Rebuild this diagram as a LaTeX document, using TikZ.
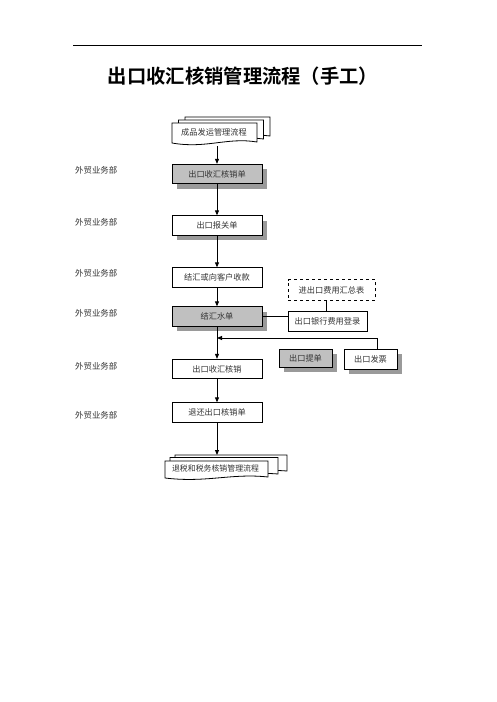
\documentclass[tikz,border=0pt]{standalone}
\usepackage{fontspec}
\newfontfamily\cjk{Noto Sans CJK SC}
\newfontfamily\cjkb{Noto Sans CJK SC Bold}
\usetikzlibrary{arrows.meta,calc}
\definecolor{boxgray}{HTML}{C0C0C0}
\definecolor{shadowgray}{HTML}{9A9A9A}
\tikzset{
  box/.style={draw, line width=0.8pt, minimum width=90pt, minimum height=19.5pt, inner sep=0pt, fill=white, font=\cjk\fontsize{8.2}{9}\selectfont, text=black!80},
  graybox/.style={box, fill=boxgray},
  shad/.style={fill=shadowgray},
  lane/.style={anchor=west, inner sep=0pt, font=\cjk\fontsize{8.4}{9}\selectfont, text=black!80},
  conn/.style={line width=0.9pt},
  arr/.style={conn, -{Triangle[length=5pt,width=4pt]}},
  doctext/.style={inner sep=0pt, font=\cjk\fontsize{8.2}{9}\selectfont, text=black!80},
}
\newcommand{\docshape}[5]{% x1 y1 x2 yb amplitude
  \filldraw[fill=white, line width=0.8pt] (#1,#4) -- (#1,#2) -- (#3,#2) -- (#3,#4-1)
    .. controls ({#3-0.35*(#3-#1)},{#4-#5}) and ({#1+0.4*(#3-#1)},{#4+#5}) .. (#1,#4) -- cycle;}
\begin{document}
\begin{tikzpicture}[x=1pt,y=-1pt]
\useasboundingbox (0,0) rectangle (496,702);
% top rule and title
\draw[line width=0.8pt] (73,45) -- (422,45);
\node[inner sep=0pt, font=\cjkb\fontsize{19.3}{21}\selectfont] (title) at (243,76) {出口收汇核销管理流程（手工）};

% multidoc 1
\docshape{185}{117}{270}{137}{5}
\docshape{178.5}{120}{263.5}{140}{5}
\docshape{172}{123}{257}{143}{6}
\node[doctext] (m1) at (214,132) {成品发运管理流程};
\coordinate (m1b) at (217,146);

% shadows
\fill[shad] (177,169) rectangle (267,189);
\fill[shad] (177,221) rectangle (267,240);
\fill[shad] (177,312) rectangle (267,331);
\fill[shad] (284,354) rectangle (337,372);
\fill[shad] (349,354) rectangle (402,374);

% main boxes
\node[graybox] (b1) at (217,174) {出口收汇核销单};
\node[box] (b2) at (217,225.5) {出口报关单};
\node[box] (b3) at (217,277.5) {结汇或向客户收款};
\node[graybox] (b4) at (217,316.5) {结汇水单};
\node[box] (b5) at (217,369) {出口收汇核销};
\node[box] (b6) at (217,412.5) {退还出口核销单};

% side boxes
\node[box, dashed, minimum width=87pt, minimum height=20.5pt] (d1) at (331.5,290) {进出口费用汇总表};
\node[box, minimum width=79pt, minimum height=20pt] (e1) at (327.5,321) {出口银行费用登录};
\node[graybox, minimum width=53pt, minimum height=18pt] (f1) at (305.5,358) {出口提单};
\node[box, minimum width=53pt, minimum height=20pt] (f2) at (370.5,359.5) {出口发票};

% lane labels
\node[lane] (l1) at (75,170.5) {外贸业务部};
\node[lane] (l2) at (75,222) {外贸业务部};
\node[lane] (l3) at (75,273) {外贸业务部};
\node[lane] (l4) at (75,313) {外贸业务部};
\node[lane] (l5) at (75,366) {外贸业务部};
\node[lane] (l6) at (75,415) {外贸业务部};

% multidoc 2
\docshape{175}{455}{287}{472}{4}
\docshape{170}{457.5}{278}{475}{4}
\docshape{165}{461}{268}{478}{5}
\node[doctext, font=\cjk\fontsize{7.9}{9}\selectfont] (m2) at (215.5,468.5) {退税和税务核销管理流程};
\coordinate (m2t) at (217,455);

% connectors
\draw[arr] (m1b) -- (b1.north);
\draw[arr] (b1.south) -- (b2.north);
\draw[arr] (b2.south) -- (b3.north);
\draw[arr] (b3.south) -- (b4.north);
\draw[arr] (b4.south) -- (b5.north);
\draw[arr] (b5.south) -- (b6.north);
\draw[arr] (b6.south) -- (m2t);
\draw[conn] (b4.east) -- (b4.east -| e1.west);
\draw[conn] ($(e1.north)+(-1.5,0)$) -- ($(e1.north |- d1.south)+(-1.5,0)$);
\coordinate (fb) at (217,338);
\draw[conn] ($(f1.north)+(3.5,0)$) -- ($(f1.north)+(3.5,0)$ |- fb);
\draw[arr] ($(f2.north)+(6.5,0)$) |- (fb);
\end{tikzpicture}
\end{document}
